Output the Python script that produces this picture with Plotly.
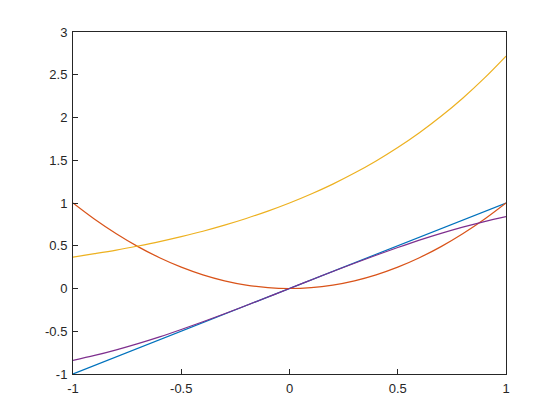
import plotly.graph_objects as go

x = [-1.0, -0.9, -0.8, -0.7, -0.6, -0.5, -0.4, -0.3, -0.2, -0.1, 0.0,
     0.1, 0.2, 0.3, 0.4, 0.5, 0.6, 0.7, 0.8, 0.9, 1.0]
y_line = [-1.0, -0.9, -0.8, -0.7, -0.6, -0.5, -0.4, -0.3, -0.2, -0.1, 0.0,
          0.1, 0.2, 0.3, 0.4, 0.5, 0.6, 0.7, 0.8, 0.9, 1.0]
y_square = [1.0, 0.81, 0.64, 0.49, 0.36, 0.25, 0.16, 0.09, 0.04, 0.01, 0.0,
            0.01, 0.04, 0.09, 0.16, 0.25, 0.36, 0.49, 0.64, 0.81, 1.0]
y_exp = [0.368, 0.407, 0.449, 0.497, 0.549, 0.607, 0.670, 0.741, 0.819, 0.905, 1.0,
         1.105, 1.221, 1.350, 1.492, 1.649, 1.822, 2.014, 2.226, 2.460, 2.718]
y_sin = [-0.841, -0.783, -0.717, -0.644, -0.565, -0.479, -0.389, -0.296, -0.199, -0.100, 0.0,
         0.100, 0.199, 0.296, 0.389, 0.479, 0.565, 0.644, 0.717, 0.783, 0.841]

x_ticks = [-1, -0.5, 0, 0.5, 1]
x_labels = ["-1", "-0.5", "0", "0.5", "1"]
y_ticks = [-1, -0.5, 0, 0.5, 1, 1.5, 2, 2.5, 3]
y_labels = ["-1", "-0.5", "0", "0.5", "1", "1.5", "2", "2.5", "3"]

series = [
    (y_line, "#0072BD", "linear"),
    (y_square, "#D95319", "spline"),
    (y_exp, "#EDB120", "spline"),
    (y_sin, "#7E2F8E", "spline"),
]

fig = go.Figure()
for ys, col, shape in series:
    fig.add_trace(go.Scatter(x=x, y=ys, mode="lines",
                             line=dict(color=col, width=1.2, shape=shape),
                             showlegend=False, hoverinfo="skip"))

axis_common = dict(
    showgrid=False, zeroline=False, showline=True, mirror=True,
    linecolor="#262626", linewidth=1, ticks="inside", ticklen=5,
    tickcolor="#262626", tickwidth=1,
    tickfont=dict(family="Liberation Sans, Arial, sans-serif", size=13, color="#262626"),
)

fig.update_layout(
    width=560, height=420,
    margin=dict(l=65, r=62, t=24, b=54),
    paper_bgcolor="white", plot_bgcolor="white",
    xaxis=dict(range=[-1, 1], tickvals=x_ticks, ticktext=x_labels,
               ticklabelstandoff=2, **axis_common),
    yaxis=dict(range=[-1, 3], tickvals=y_ticks, ticktext=y_labels,
               ticklabelstandoff=2, **axis_common),
)

fig.write_html("out.html")
